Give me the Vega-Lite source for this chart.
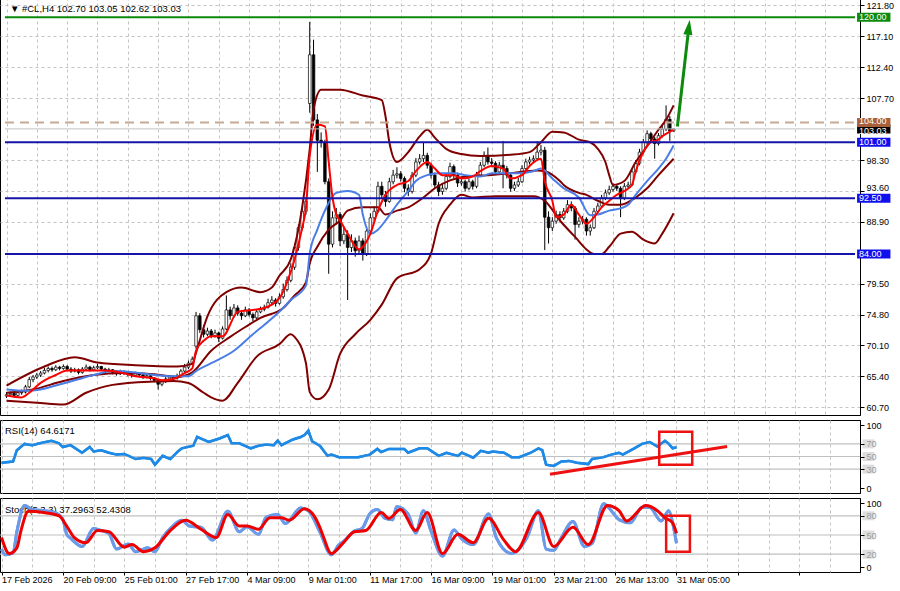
{
"$schema": "https://vega.github.io/schema/vega-lite/v6.json",
"padding": {"left": -5, "top": -4, "right": 0, "bottom": 0},
"background": "white",
"spacing": 3,
"config": {
 "font": "Liberation Sans",
 "view": {"stroke": "#000", "strokeWidth": 1},
 "axis": {"labelFont": "Liberation Sans", "labelFontSize": 9, "labelColor": "#000", "domainColor": "#000", "tickColor": "#000", "gridColor": "#c4c4c4", "labelOverlap": false},
 "text": {"font": "Liberation Sans"}
},
"datasets": {
 "bars": [
{"i":0,"o":62.4,"h":63.0,"l":62.1,"c":62.6},{"i":1,"o":62.6,"h":63.1,"l":62.3,"c":62.8},{"i":2,"o":62.8,"h":63.0,"l":62.2,"c":62.5},{"i":3,"o":62.5,"h":63.1,"l":62.3,"c":62.9},{"i":4,"o":62.9,"h":63.4,"l":62.6,"c":63.0},{"i":5,"o":63.0,"h":64.1,"l":62.8,"c":63.8},{"i":6,"o":63.8,"h":65.3,"l":63.6,"c":64.9},{"i":7,"o":64.9,"h":65.6,"l":64.5,"c":65.3},{"i":8,"o":65.3,"h":65.9,"l":65.0,"c":65.6},{"i":9,"o":65.6,"h":66.2,"l":65.3,"c":65.9},
{"i":10,"o":65.9,"h":66.7,"l":65.7,"c":66.3},{"i":11,"o":66.3,"h":66.9,"l":66.0,"c":66.6},{"i":12,"o":66.6,"h":66.9,"l":66.1,"c":66.4},{"i":13,"o":66.4,"h":67.1,"l":66.2,"c":66.8},{"i":14,"o":66.8,"h":67.0,"l":66.3,"c":66.6},{"i":15,"o":66.6,"h":67.2,"l":66.4,"c":66.9},{"i":16,"o":66.9,"h":67.1,"l":66.2,"c":66.5},{"i":17,"o":66.5,"h":66.8,"l":65.9,"c":66.2},{"i":18,"o":66.2,"h":66.7,"l":66.0,"c":66.4},{"i":19,"o":66.4,"h":66.6,"l":65.7,"c":66.0},
{"i":20,"o":66.0,"h":66.8,"l":65.8,"c":66.5},{"i":21,"o":66.5,"h":67.2,"l":66.3,"c":66.8},{"i":22,"o":66.8,"h":67.0,"l":66.1,"c":66.4},{"i":23,"o":66.4,"h":67.0,"l":66.2,"c":66.7},{"i":24,"o":66.7,"h":67.3,"l":66.5,"c":66.9},{"i":25,"o":66.9,"h":67.0,"l":66.2,"c":66.5},{"i":26,"o":66.5,"h":66.7,"l":65.9,"c":66.2},{"i":27,"o":66.2,"h":66.7,"l":66.0,"c":66.4},{"i":28,"o":66.4,"h":66.5,"l":65.7,"c":66.0},{"i":29,"o":66.0,"h":66.2,"l":65.5,"c":65.8},
{"i":30,"o":65.8,"h":66.4,"l":65.6,"c":66.1},{"i":31,"o":66.1,"h":66.3,"l":65.6,"c":65.9},{"i":32,"o":65.9,"h":66.1,"l":65.4,"c":65.7},{"i":33,"o":65.7,"h":65.9,"l":65.2,"c":65.5},{"i":34,"o":65.5,"h":66.1,"l":65.3,"c":65.8},{"i":35,"o":65.8,"h":66.0,"l":65.3,"c":65.6},{"i":36,"o":65.6,"h":65.8,"l":65.0,"c":65.3},{"i":37,"o":65.3,"h":65.8,"l":65.1,"c":65.5},{"i":38,"o":65.5,"h":65.6,"l":64.8,"c":65.1},{"i":39,"o":65.1,"h":65.3,"l":64.5,"c":64.8},
{"i":40,"o":64.8,"h":65.0,"l":63.4,"c":64.2},{"i":41,"o":64.2,"h":64.9,"l":63.9,"c":64.6},{"i":42,"o":64.6,"h":65.3,"l":64.4,"c":65.0},{"i":43,"o":65.0,"h":65.6,"l":64.8,"c":65.3},{"i":44,"o":65.3,"h":65.5,"l":64.8,"c":65.1},{"i":45,"o":65.1,"h":65.8,"l":64.9,"c":65.5},{"i":46,"o":65.5,"h":66.5,"l":65.3,"c":66.2},{"i":47,"o":66.2,"h":67.3,"l":66.0,"c":66.8},{"i":48,"o":66.8,"h":67.8,"l":66.5,"c":67.4},{"i":49,"o":67.4,"h":68.4,"l":67.1,"c":68.0},
{"i":50,"o":70.0,"h":75.2,"l":69.6,"c":74.6},{"i":51,"o":74.6,"h":75.0,"l":72.0,"c":72.5},{"i":52,"o":72.5,"h":73.2,"l":71.3,"c":71.8},{"i":53,"o":71.8,"h":72.8,"l":71.5,"c":72.3},{"i":54,"o":72.3,"h":72.6,"l":71.2,"c":71.6},{"i":55,"o":71.6,"h":72.5,"l":71.3,"c":72.0},{"i":56,"o":72.0,"h":72.2,"l":70.6,"c":71.2},{"i":57,"o":71.2,"h":73.0,"l":71.0,"c":72.6},{"i":58,"o":72.6,"h":77.7,"l":72.4,"c":75.5},{"i":59,"o":75.5,"h":76.0,"l":74.0,"c":74.6},
{"i":60,"o":74.6,"h":76.4,"l":74.3,"c":75.8},{"i":61,"o":75.8,"h":76.2,"l":74.6,"c":75.0},{"i":62,"o":75.0,"h":75.5,"l":74.0,"c":74.6},{"i":63,"o":74.6,"h":76.0,"l":74.4,"c":75.5},{"i":64,"o":75.5,"h":75.8,"l":74.5,"c":74.8},{"i":65,"o":74.8,"h":75.1,"l":73.8,"c":74.3},{"i":66,"o":74.3,"h":75.6,"l":74.1,"c":75.2},{"i":67,"o":75.2,"h":76.0,"l":75.0,"c":75.6},{"i":68,"o":75.6,"h":76.3,"l":75.3,"c":75.9},{"i":69,"o":75.9,"h":77.2,"l":75.7,"c":76.6},
{"i":70,"o":76.6,"h":77.6,"l":76.3,"c":77.0},{"i":71,"o":77.0,"h":77.3,"l":76.0,"c":76.5},{"i":72,"o":76.5,"h":78.0,"l":76.3,"c":77.5},{"i":73,"o":77.5,"h":79.5,"l":77.2,"c":78.6},{"i":74,"o":78.6,"h":80.6,"l":78.3,"c":80.0},{"i":75,"o":80.0,"h":82.6,"l":79.7,"c":82.0},{"i":76,"o":82.0,"h":85.6,"l":81.6,"c":85.0},{"i":77,"o":85.0,"h":88.5,"l":84.5,"c":88.0},{"i":78,"o":88.0,"h":91.2,"l":87.6,"c":90.5},{"i":79,"o":90.5,"h":92.6,"l":90.0,"c":92.0},
{"i":80,"o":106.9,"h":119.3,"l":105.5,"c":114.3},{"i":81,"o":114.3,"h":116.6,"l":103.5,"c":104.4},{"i":82,"o":104.4,"h":105.3,"l":96.5,"c":101.3},{"i":83,"o":101.3,"h":102.5,"l":100.2,"c":101.0},{"i":84,"o":101.0,"h":101.4,"l":94.6,"c":95.0},{"i":85,"o":95.0,"h":95.5,"l":81.0,"c":85.5},{"i":86,"o":85.5,"h":90.5,"l":85.0,"c":89.5},{"i":87,"o":89.5,"h":91.0,"l":88.5,"c":90.0},{"i":88,"o":90.0,"h":90.4,"l":85.2,"c":86.0},{"i":89,"o":86.0,"h":88.2,"l":85.5,"c":87.0},
{"i":90,"o":87.0,"h":87.6,"l":77.0,"c":85.0},{"i":91,"o":85.0,"h":87.0,"l":84.3,"c":86.0},{"i":92,"o":86.0,"h":86.5,"l":83.6,"c":84.5},{"i":93,"o":84.5,"h":86.8,"l":84.0,"c":86.0},{"i":94,"o":86.0,"h":86.4,"l":83.0,"c":84.0},{"i":95,"o":84.0,"h":88.2,"l":83.7,"c":87.5},{"i":96,"o":87.5,"h":90.2,"l":87.0,"c":89.5},{"i":97,"o":89.5,"h":91.3,"l":89.0,"c":90.5},{"i":98,"o":90.5,"h":95.0,"l":90.2,"c":94.3},{"i":99,"o":94.3,"h":95.0,"l":92.5,"c":93.0},
{"i":100,"o":93.0,"h":93.6,"l":91.2,"c":92.0},{"i":101,"o":92.0,"h":95.6,"l":91.8,"c":95.0},{"i":102,"o":95.0,"h":96.8,"l":94.6,"c":96.0},{"i":103,"o":96.0,"h":97.2,"l":95.5,"c":96.2},{"i":104,"o":96.2,"h":96.6,"l":95.0,"c":95.5},{"i":105,"o":95.5,"h":95.8,"l":93.4,"c":94.0},{"i":106,"o":94.0,"h":94.6,"l":92.8,"c":93.5},{"i":107,"o":93.5,"h":96.5,"l":93.2,"c":96.0},{"i":108,"o":96.0,"h":98.6,"l":95.7,"c":98.0},{"i":109,"o":98.0,"h":99.2,"l":97.6,"c":98.5},
{"i":110,"o":98.5,"h":101.0,"l":98.0,"c":99.0},{"i":111,"o":99.0,"h":99.4,"l":97.0,"c":97.5},{"i":112,"o":97.5,"h":97.9,"l":95.5,"c":96.0},{"i":113,"o":96.0,"h":96.4,"l":94.0,"c":94.5},{"i":114,"o":94.5,"h":95.0,"l":92.8,"c":93.5},{"i":115,"o":93.5,"h":94.8,"l":93.0,"c":94.0},{"i":116,"o":94.0,"h":96.3,"l":93.7,"c":95.8},{"i":117,"o":95.8,"h":97.9,"l":95.5,"c":97.3},{"i":118,"o":97.3,"h":97.6,"l":95.5,"c":96.0},{"i":119,"o":96.0,"h":96.4,"l":94.2,"c":94.8},
{"i":120,"o":94.8,"h":95.6,"l":94.4,"c":95.0},{"i":121,"o":95.0,"h":95.3,"l":93.5,"c":94.0},{"i":122,"o":94.0,"h":95.5,"l":93.7,"c":95.0},{"i":123,"o":95.0,"h":95.3,"l":93.8,"c":94.3},{"i":124,"o":94.3,"h":96.5,"l":94.0,"c":96.0},{"i":125,"o":96.0,"h":98.0,"l":95.7,"c":97.5},{"i":126,"o":97.5,"h":99.6,"l":97.2,"c":99.0},{"i":127,"o":99.0,"h":100.2,"l":97.6,"c":98.0},{"i":128,"o":98.0,"h":98.6,"l":97.2,"c":97.8},{"i":129,"o":97.8,"h":98.1,"l":96.0,"c":96.5},
{"i":130,"o":96.5,"h":98.0,"l":96.2,"c":97.5},{"i":131,"o":97.5,"h":101.2,"l":94.0,"c":97.0},{"i":132,"o":97.0,"h":97.4,"l":95.5,"c":96.0},{"i":133,"o":96.0,"h":96.3,"l":93.5,"c":94.0},{"i":134,"o":94.0,"h":95.0,"l":93.6,"c":94.5},{"i":135,"o":94.5,"h":95.6,"l":94.2,"c":95.0},{"i":136,"o":95.0,"h":97.5,"l":94.8,"c":97.0},{"i":137,"o":97.0,"h":98.5,"l":96.8,"c":98.0},{"i":138,"o":98.0,"h":98.8,"l":97.6,"c":98.3},{"i":139,"o":98.3,"h":99.0,"l":97.9,"c":98.5},
{"i":140,"o":98.5,"h":101.1,"l":98.2,"c":99.5},{"i":141,"o":99.5,"h":100.6,"l":99.0,"c":99.8},{"i":142,"o":99.8,"h":100.3,"l":84.6,"c":89.6},{"i":143,"o":89.6,"h":90.5,"l":85.6,"c":88.0},{"i":144,"o":88.0,"h":89.6,"l":87.5,"c":89.0},{"i":145,"o":89.0,"h":90.6,"l":88.6,"c":90.0},{"i":146,"o":90.0,"h":90.5,"l":89.0,"c":89.5},{"i":147,"o":89.5,"h":91.0,"l":89.2,"c":90.5},{"i":148,"o":90.5,"h":92.2,"l":90.2,"c":91.5},{"i":149,"o":91.5,"h":92.0,"l":90.5,"c":91.0},
{"i":150,"o":91.0,"h":91.3,"l":86.2,"c":88.5},{"i":151,"o":88.5,"h":89.6,"l":88.0,"c":89.0},{"i":152,"o":89.0,"h":89.8,"l":88.5,"c":89.3},{"i":153,"o":89.3,"h":89.6,"l":86.8,"c":87.5},{"i":154,"o":87.5,"h":88.5,"l":86.8,"c":88.0},{"i":155,"o":88.0,"h":91.0,"l":87.8,"c":90.5},{"i":156,"o":90.5,"h":91.8,"l":90.2,"c":91.3},{"i":157,"o":91.3,"h":93.0,"l":91.0,"c":92.5},{"i":158,"o":92.5,"h":93.8,"l":92.2,"c":93.3},{"i":159,"o":93.3,"h":94.4,"l":93.0,"c":93.8},
{"i":160,"o":93.8,"h":94.8,"l":93.5,"c":94.3},{"i":161,"o":94.3,"h":94.6,"l":93.6,"c":94.0},{"i":162,"o":94.0,"h":94.3,"l":89.6,"c":92.5},{"i":163,"o":92.5,"h":94.8,"l":92.2,"c":94.3},{"i":164,"o":94.3,"h":95.0,"l":94.0,"c":94.5},{"i":165,"o":94.5,"h":97.0,"l":94.3,"c":96.5},{"i":166,"o":96.5,"h":98.3,"l":96.2,"c":97.8},{"i":167,"o":97.8,"h":100.0,"l":97.5,"c":99.5},{"i":168,"o":99.5,"h":101.5,"l":99.2,"c":101.0},{"i":169,"o":101.0,"h":102.8,"l":100.6,"c":102.3},
{"i":170,"o":102.3,"h":102.6,"l":101.0,"c":101.5},{"i":171,"o":101.5,"h":101.8,"l":98.5,"c":100.8},{"i":172,"o":100.8,"h":102.4,"l":100.5,"c":102.0},{"i":173,"o":102.0,"h":103.6,"l":101.7,"c":103.0},{"i":174,"o":103.0,"h":106.6,"l":102.7,"c":104.5},{"i":175,"o":104.5,"h":105.0,"l":101.2,"c":102.7},{"i":176,"o":102.70,"h":103.05,"l":102.62,"c":103.03}
 ],
 "maRed": [{"i":0,"p":62.5},{"i":4,"p":62.2},{"i":6,"p":62.9},{"i":9,"p":64.4},{"i":13,"p":65.6},{"i":16,"p":66.3},{"i":20,"p":66.3},{"i":26,"p":66.3},{"i":30,"p":66.0},{"i":34,"p":65.4},{"i":39,"p":65.1},{"i":41,"p":64.8},{"i":44,"p":65.0},{"i":47,"p":65.9},{"i":49,"p":66.6},{"i":50,"p":69.3},{"i":52,"p":70.8},{"i":54,"p":71.5},{"i":57,"p":71.5},{"i":61,"p":75.2},{"i":65,"p":75.5},{"i":68,"p":75.8},{"i":72,"p":77.3},{"i":74,"p":79.7},{"i":76,"p":83.2},{"i":78,"p":88.0},{"i":79,"p":91.0},{"i":80,"p":99.0},{"i":82,"p":103.7},{"i":84,"p":103.4},{"i":85,"p":98.0},{"i":86,"p":92.6},{"i":87,"p":90.0},{"i":88,"p":89.1},{"i":90,"p":87.1},{"i":93,"p":84.7},{"i":94,"p":85.1},{"i":96,"p":87.1},{"i":98,"p":90.6},{"i":100,"p":93.0},{"i":103,"p":94.5},{"i":106,"p":95.1},{"i":108,"p":96.6},{"i":111,"p":98.0},{"i":113,"p":97.0},{"i":115,"p":96.0},{"i":118,"p":96.0},{"i":120,"p":95.5},{"i":123,"p":95.8},{"i":125,"p":96.6},{"i":128,"p":97.4},{"i":131,"p":97.0},{"i":133,"p":95.5},{"i":136,"p":96.0},{"i":138,"p":97.4},{"i":141,"p":98.5},{"i":142,"p":95.1},{"i":144,"p":92.1},{"i":145,"p":89.6},{"i":147,"p":90.0},{"i":149,"p":91.5},{"i":151,"p":90.0},{"i":153,"p":88.6},{"i":155,"p":89.6},{"i":157,"p":91.1},{"i":159,"p":92.1},{"i":161,"p":93.0},{"i":163,"p":93.6},{"i":165,"p":94.5},{"i":166,"p":96.6},{"i":168,"p":99.5},{"i":170,"p":101.0},{"i":172,"p":101.4},{"i":173,"p":101.9},{"i":175,"p":102.6},{"i":176,"p":102.9}],
 "maBlue": [{"i":0,"p":63.4},{"i":5,"p":63.2},{"i":9,"p":63.4},{"i":13,"p":64.0},{"i":18,"p":64.8},{"i":23,"p":65.6},{"i":28,"p":66.2},{"i":34,"p":66.0},{"i":39,"p":65.6},{"i":44,"p":65.4},{"i":48,"p":65.4},{"i":50,"p":66.2},{"i":54,"p":67.4},{"i":60,"p":69.3},{"i":65,"p":71.8},{"i":69,"p":73.7},{"i":73,"p":75.8},{"i":75,"p":77.0},{"i":79,"p":79.2},{"i":80,"p":84.1},{"i":82,"p":87.7},{"i":84,"p":90.6},{"i":87,"p":93.3},{"i":90,"p":93.6},{"i":93,"p":93.0},{"i":94,"p":90.0},{"i":96,"p":87.1},{"i":98,"p":87.7},{"i":100,"p":89.1},{"i":103,"p":91.5},{"i":106,"p":93.6},{"i":108,"p":95.1},{"i":111,"p":96.0},{"i":114,"p":96.3},{"i":118,"p":96.3},{"i":121,"p":96.0},{"i":125,"p":95.8},{"i":128,"p":96.3},{"i":132,"p":96.3},{"i":135,"p":96.3},{"i":139,"p":96.6},{"i":141,"p":97.0},{"i":144,"p":95.5},{"i":147,"p":94.0},{"i":151,"p":92.6},{"i":154,"p":89.9},{"i":156,"p":90.0},{"i":159,"p":90.6},{"i":161,"p":90.8},{"i":164,"p":91.5},{"i":166,"p":93.0},{"i":169,"p":95.1},{"i":172,"p":97.0},{"i":174,"p":98.5},{"i":176,"p":100.5}],
 "bbUp": [{"i":0,"p":64.0},{"i":10,"p":66.9},{"i":18,"p":68.3},{"i":24,"p":67.5},{"i":34,"p":67.1},{"i":45,"p":66.9},{"i":49,"p":67.3},{"i":50,"p":69.0},{"i":53,"p":74.5},{"i":58,"p":78.2},{"i":62,"p":78.9},{"i":67,"p":78.2},{"i":70,"p":78.9},{"i":72,"p":80.7},{"i":75,"p":83.2},{"i":78,"p":91.1},{"i":80,"p":100.0},{"i":81,"p":106.0},{"i":83,"p":109.0},{"i":88,"p":109.0},{"i":94,"p":108.1},{"i":99,"p":107.4},{"i":100,"p":104.9},{"i":101,"p":101.0},{"i":103,"p":98.0},{"i":106,"p":99.5},{"i":109,"p":101.9},{"i":111,"p":102.9},{"i":113,"p":101.7},{"i":116,"p":100.0},{"i":120,"p":99.2},{"i":125,"p":98.9},{"i":133,"p":99.1},{"i":138,"p":99.5},{"i":141,"p":101.0},{"i":144,"p":102.6},{"i":147,"p":102.5},{"i":151,"p":101.4},{"i":154,"p":101.0},{"i":156,"p":100.0},{"i":158,"p":98.0},{"i":159,"p":96.0},{"i":160,"p":94.5},{"i":163,"p":95.1},{"i":166,"p":98.0},{"i":169,"p":100.4},{"i":172,"p":102.9},{"i":174,"p":104.4},{"i":176,"p":106.6}],
 "bbMid": [{"i":0,"p":62.9},{"i":7,"p":63.4},{"i":15,"p":64.7},{"i":23,"p":65.6},{"i":31,"p":65.9},{"i":39,"p":65.7},{"i":45,"p":65.3},{"i":49,"p":66.0},{"i":54,"p":69.3},{"i":59,"p":71.4},{"i":63,"p":72.9},{"i":67,"p":74.3},{"i":73,"p":75.8},{"i":76,"p":77.7},{"i":79,"p":79.7},{"i":80,"p":82.6},{"i":82,"p":85.1},{"i":85,"p":87.7},{"i":88,"p":89.1},{"i":90,"p":90.6},{"i":94,"p":91.1},{"i":98,"p":91.1},{"i":100,"p":90.0},{"i":103,"p":90.6},{"i":106,"p":91.1},{"i":110,"p":92.6},{"i":113,"p":94.0},{"i":117,"p":95.2},{"i":121,"p":95.8},{"i":127,"p":96.0},{"i":133,"p":96.3},{"i":140,"p":96.7},{"i":142,"p":96.6},{"i":146,"p":95.1},{"i":147,"p":94.5},{"i":151,"p":93.3},{"i":153,"p":93.0},{"i":156,"p":92.1},{"i":159,"p":91.5},{"i":162,"p":91.5},{"i":166,"p":92.6},{"i":169,"p":94.0},{"i":172,"p":96.0},{"i":176,"p":98.5}],
 "bbLow": [{"i":0,"p":61.7},{"i":8,"p":61.4},{"i":15,"p":61.1},{"i":21,"p":62.9},{"i":28,"p":64.1},{"i":39,"p":64.6},{"i":44,"p":64.7},{"i":48,"p":64.4},{"i":52,"p":62.9},{"i":54,"p":62.2},{"i":57,"p":61.7},{"i":61,"p":64.4},{"i":66,"p":68.4},{"i":72,"p":70.3},{"i":75,"p":71.8},{"i":76,"p":71.4},{"i":79,"p":67.4},{"i":80,"p":63.0},{"i":82,"p":61.9},{"i":85,"p":63.4},{"i":88,"p":68.8},{"i":92,"p":71.8},{"i":96,"p":74.0},{"i":99,"p":76.3},{"i":103,"p":80.3},{"i":109,"p":81.7},{"i":112,"p":84.1},{"i":114,"p":88.6},{"i":117,"p":91.5},{"i":120,"p":93.0},{"i":123,"p":92.6},{"i":129,"p":92.8},{"i":139,"p":92.8},{"i":142,"p":92.1},{"i":146,"p":89.1},{"i":150,"p":86.6},{"i":153,"p":84.7},{"i":155,"p":84.0},{"i":157,"p":84.0},{"i":159,"p":85.1},{"i":162,"p":87.1},{"i":165,"p":87.4},{"i":168,"p":86.2},{"i":171,"p":85.6},{"i":173,"p":87.1},{"i":176,"p":90.2}],
 "levels": [{"p":120,"kind":"target"},{"p":103.03,"kind":"bid"},{"p":104,"kind":"entry"},{"p":101,"kind":"level"},{"p":92.5,"kind":"level"},{"p":84,"kind":"level"}],
 "rsi": [{"i":0,"v":40},{"i":3,"v":42},{"i":4,"v":60},{"i":6,"v":70},{"i":8,"v":68},{"i":10,"v":71},{"i":13,"v":75},{"i":15,"v":71},{"i":16,"v":65},{"i":18,"v":68},{"i":21,"v":56},{"i":23,"v":65},{"i":24,"v":58},{"i":26,"v":60},{"i":28,"v":56},{"i":30,"v":53},{"i":32,"v":54},{"i":35,"v":46},{"i":37,"v":48},{"i":39,"v":46},{"i":40,"v":37},{"i":42,"v":51},{"i":44,"v":46},{"i":46,"v":58},{"i":47,"v":63},{"i":50,"v":67},{"i":51,"v":81},{"i":54,"v":73},{"i":55,"v":75},{"i":57,"v":79},{"i":59,"v":84},{"i":60,"v":71},{"i":62,"v":71},{"i":65,"v":63},{"i":67,"v":67},{"i":69,"v":69},{"i":71,"v":68},{"i":72,"v":75},{"i":73,"v":68},{"i":76,"v":77},{"i":78,"v":81},{"i":79,"v":84},{"i":80,"v":91},{"i":81,"v":74},{"i":83,"v":67},{"i":85,"v":51},{"i":86,"v":53},{"i":88,"v":49},{"i":91,"v":49},{"i":93,"v":49},{"i":96,"v":53},{"i":98,"v":62},{"i":99,"v":57},{"i":101,"v":62},{"i":105,"v":62},{"i":106,"v":56},{"i":109,"v":63},{"i":111,"v":63},{"i":114,"v":51},{"i":116,"v":56},{"i":119,"v":51},{"i":120,"v":56},{"i":123,"v":48},{"i":125,"v":59},{"i":127,"v":56},{"i":128,"v":58},{"i":131,"v":56},{"i":133,"v":49},{"i":135,"v":49},{"i":138,"v":56},{"i":140,"v":63},{"i":141,"v":60},{"i":142,"v":37},{"i":144,"v":35},{"i":146,"v":42},{"i":148,"v":43},{"i":150,"v":40},{"i":153,"v":38},{"i":154,"v":46},{"i":157,"v":49},{"i":159,"v":53},{"i":161,"v":56},{"i":162,"v":53},{"i":165,"v":63},{"i":167,"v":70},{"i":169,"v":73},{"i":171,"v":66},{"i":173,"v":75},{"i":174,"v":70},{"i":175,"v":63},{"i":176,"v":64.6171}],
 "stochK": [{"i":0,"v":28},{"i":1,"v":19},{"i":3,"v":22},{"i":4,"v":55},{"i":6,"v":96},{"i":8,"v":90},{"i":11,"v":88},{"i":14,"v":85},{"i":16,"v":74},{"i":17,"v":51},{"i":18,"v":45},{"i":21,"v":32},{"i":24,"v":60},{"i":26,"v":57},{"i":28,"v":52},{"i":30,"v":28},{"i":33,"v":36},{"i":35,"v":24},{"i":37,"v":28},{"i":38,"v":30},{"i":40,"v":24},{"i":42,"v":46},{"i":44,"v":60},{"i":47,"v":73},{"i":49,"v":64},{"i":52,"v":62},{"i":55,"v":42},{"i":59,"v":87},{"i":62,"v":55},{"i":64,"v":63},{"i":67,"v":51},{"i":69,"v":78},{"i":72,"v":82},{"i":74,"v":68},{"i":78,"v":92},{"i":80,"v":88},{"i":83,"v":55},{"i":86,"v":19},{"i":88,"v":35},{"i":89,"v":39},{"i":92,"v":56},{"i":94,"v":60},{"i":96,"v":83},{"i":98,"v":90},{"i":100,"v":76},{"i":102,"v":74},{"i":103,"v":94},{"i":106,"v":83},{"i":108,"v":53},{"i":110,"v":88},{"i":112,"v":56},{"i":115,"v":17},{"i":118,"v":58},{"i":120,"v":44},{"i":123,"v":35},{"i":127,"v":83},{"i":129,"v":46},{"i":133,"v":21},{"i":137,"v":46},{"i":140,"v":88},{"i":142,"v":28},{"i":144,"v":26},{"i":146,"v":46},{"i":149,"v":71},{"i":152,"v":32},{"i":154,"v":37},{"i":157,"v":99},{"i":159,"v":88},{"i":161,"v":74},{"i":164,"v":69},{"i":167,"v":93},{"i":169,"v":93},{"i":172,"v":72},{"i":174,"v":88},{"i":175,"v":69},{"i":176,"v":37.2963}],
 "stochD": [{"i":0,"v":46},{"i":2,"v":21},{"i":4,"v":30},{"i":5,"v":55},{"i":7,"v":87},{"i":11,"v":85},{"i":15,"v":80},{"i":17,"v":64},{"i":19,"v":46},{"i":22,"v":38},{"i":25,"v":57},{"i":28,"v":55},{"i":32,"v":31},{"i":34,"v":35},{"i":37,"v":24},{"i":40,"v":30},{"i":44,"v":57},{"i":48,"v":73},{"i":52,"v":59},{"i":56,"v":46},{"i":59,"v":82},{"i":62,"v":64},{"i":64,"v":64},{"i":67,"v":59},{"i":70,"v":77},{"i":73,"v":77},{"i":75,"v":73},{"i":79,"v":91},{"i":81,"v":84},{"i":83,"v":62},{"i":84,"v":46},{"i":86,"v":21},{"i":89,"v":37},{"i":92,"v":55},{"i":95,"v":57},{"i":99,"v":85},{"i":101,"v":76},{"i":104,"v":90},{"i":108,"v":57},{"i":111,"v":85},{"i":115,"v":21},{"i":119,"v":51},{"i":123,"v":38},{"i":127,"v":76},{"i":131,"v":42},{"i":134,"v":24},{"i":140,"v":85},{"i":144,"v":32},{"i":149,"v":62},{"i":153,"v":35},{"i":158,"v":96},{"i":161,"v":88},{"i":163,"v":72},{"i":168,"v":96},{"i":171,"v":88},{"i":173,"v":77},{"i":175,"v":69},{"i":176,"v":52.4308}]
},
"vconcat": [
 {
  "width": 860, "height": 418,
  "layer": [
   {"data": {"name": "bars"}, "mark": {"type": "rule", "color": "#000", "strokeWidth": 1},
    "encoding": {
     "x": {"field": "i", "type": "quantitative", "title": null, "scale": {"domain": [-0.4, 223.85], "nice": false, "zero": false},
      "axis": {"orient": "bottom", "values": [0,8,16,24,32,40,48,56,64,72,80,88,96,104,112,120,128,136,144,152,160,168,176,184,192,200,208,216], "tickCount": 100, "grid": true, "gridDash": [3,3], "labels": false, "ticks": false, "domain": false, "title": null}},
     "y": {"field": "l", "type": "quantitative", "title": null, "scale": {"domain": [60.28, 122.33], "nice": false, "zero": false},
      "axis": {"orient": "right", "values": [60.7,65.4,70.1,74.8,79.5,88.9,93.6,98.3,107.7,112.4,117.1,121.8], "tickCount": 100, "format": ".2f", "grid": true, "gridDash": [3,3], "tickSize": 4, "labelPadding": 2, "labelOverlap": false, "title": null,
       "labelOffset": {"condition": {"test": "datum.value == 93.6", "value": -3}, "value": 0}}},
     "y2": {"field": "h"}}},
   {"data": {"name": "bars"}, "mark": {"type": "bar", "size": 2.6, "stroke": "#000", "strokeWidth": 0.7},
    "encoding": {"x": {"field": "i", "type": "quantitative", "title": null}, "y": {"field": "o", "type": "quantitative", "title": null}, "y2": {"field": "c"},
     "color": {"condition": {"test": "datum.c >= datum.o", "value": "#ffffff"}, "value": "#000000"}}},
   {"data": {"name": "bbUp"}, "mark": {"type": "line", "color": "#800000", "strokeWidth": 2, "interpolate": "monotone"},
    "encoding": {"x": {"field": "i", "type": "quantitative", "title": null}, "y": {"field": "p", "type": "quantitative", "title": null}}},
   {"data": {"name": "bbMid"}, "mark": {"type": "line", "color": "#800000", "strokeWidth": 2, "interpolate": "monotone"},
    "encoding": {"x": {"field": "i", "type": "quantitative", "title": null}, "y": {"field": "p", "type": "quantitative", "title": null}}},
   {"data": {"name": "bbLow"}, "mark": {"type": "line", "color": "#800000", "strokeWidth": 2, "interpolate": "monotone"},
    "encoding": {"x": {"field": "i", "type": "quantitative", "title": null}, "y": {"field": "p", "type": "quantitative", "title": null}}},
   {"data": {"name": "maBlue"}, "mark": {"type": "line", "color": "#4a7ee6", "strokeWidth": 2, "interpolate": "monotone"},
    "encoding": {"x": {"field": "i", "type": "quantitative", "title": null}, "y": {"field": "p", "type": "quantitative", "title": null}}},
   {"data": {"name": "maRed"}, "mark": {"type": "line", "color": "#ff0000", "strokeWidth": 2, "interpolate": "monotone"},
    "encoding": {"x": {"field": "i", "type": "quantitative", "title": null}, "y": {"field": "p", "type": "quantitative", "title": null}}},
   {"data": {"name": "levels"}, "transform": [{"filter": "datum.kind == 'bid'"}], "mark": {"type": "rule", "color": "#c0c0c0", "strokeWidth": 1},
    "encoding": {"x": {"datum": -0.4}, "x2": {"datum": 223.85}, "y": {"field": "p", "type": "quantitative", "title": null}}},
   {"data": {"name": "levels"}, "transform": [{"filter": "datum.kind == 'level'"}], "mark": {"type": "rule", "color": "#1414a8", "strokeWidth": 2},
    "encoding": {"x": {"datum": -0.4}, "x2": {"datum": 223.85}, "y": {"field": "p", "type": "quantitative", "title": null}}},
   {"data": {"name": "levels"}, "transform": [{"filter": "datum.kind == 'target'"}], "mark": {"type": "rule", "color": "#0b8a0b", "strokeWidth": 2},
    "encoding": {"x": {"datum": -0.4}, "x2": {"datum": 223.85}, "y": {"field": "p", "type": "quantitative", "title": null}}},
   {"data": {"name": "levels"}, "transform": [{"filter": "datum.kind == 'entry'"}], "mark": {"type": "rule", "color": "#c8a994", "strokeWidth": 2, "strokeDash": [9,6]},
    "encoding": {"x": {"datum": -0.4}, "x2": {"datum": 223.85}, "y": {"field": "p", "type": "quantitative", "title": null}}},
   {"data": {"values": [{"i1": 177.0, "p1": 103.4, "i2": 179.8, "p2": 117.4}]}, "mark": {"type": "rule", "color": "#0b8a0b", "strokeWidth": 3},
    "encoding": {"x": {"field": "i1", "type": "quantitative", "title": null}, "x2": {"field": "i2"}, "y": {"field": "p1", "type": "quantitative", "title": null}, "y2": {"field": "p2"}}},
   {"data": {"values": [{"i": 180.0, "p": 118.5}]}, "mark": {"type": "point", "shape": "M0,-1L0.6,1L-0.6,1Z", "size": 230, "angle": 7, "filled": true, "color": "#0b8a0b", "opacity": 1},
    "encoding": {"x": {"field": "i", "type": "quantitative", "title": null}, "y": {"field": "p", "type": "quantitative", "title": null}}},
   {"data": {"name": "levels"}, "mark": {"type": "bar", "size": 9},
    "encoding": {"x": {"datum": 224.4}, "x2": {"datum": 233.2}, "y": {"field": "p", "type": "quantitative", "title": null},
     "color": {"field": "kind", "type": "nominal", "legend": null, "scale": {"domain": ["target","entry","bid","level"], "range": ["#0b8a0b","#a8603a","#000000","#1010ee"]}}}},
   {"data": {"name": "levels"}, "transform": [{"filter": "datum.kind == 'target' || datum.kind == 'level'"}], "mark": {"type": "text", "align": "left", "baseline": "middle", "fontSize": 9, "color": "#ffffff", "dx": 2},
    "encoding": {"x": {"datum": 224.4}, "y": {"field": "p", "type": "quantitative", "title": null}, "text": {"field": "p", "type": "quantitative", "format": ".2f"}}},
   {"data": {"name": "levels"}, "transform": [{"filter": "datum.kind == 'bid'"}], "mark": {"type": "text", "align": "left", "baseline": "middle", "fontSize": 9, "color": "#ffffff", "dx": 2, "dy": 2},
    "encoding": {"x": {"datum": 224.4}, "y": {"field": "p", "type": "quantitative", "title": null}, "text": {"field": "p", "type": "quantitative", "format": ".2f"}}},
   {"data": {"name": "levels"}, "transform": [{"filter": "datum.kind == 'entry'"}], "mark": {"type": "text", "align": "left", "baseline": "middle", "fontSize": 9, "color": "#ffffff", "dx": 2, "dy": -1.5},
    "encoding": {"x": {"datum": 224.4}, "y": {"field": "p", "type": "quantitative", "title": null}, "text": {"field": "p", "type": "quantitative", "format": ".2f"}}},
   {"data": {"values": [{"label": "▼ #CL,H4  102.70 103.05 102.62 103.03"}]}, "mark": {"type": "text", "align": "left", "baseline": "middle", "fontSize": 9.5, "color": "#000"},
    "encoding": {"x": {"datum": 0.9}, "y": {"datum": 121.3}, "text": {"field": "label"}}}
  ]
 },
 {
  "width": 860, "height": 73,
  "layer": [
   {"data": {"name": "rsi"}, "mark": {"type": "line", "color": "#1e8ae6", "strokeWidth": 2.5},
    "encoding": {
     "x": {"field": "i", "type": "quantitative", "title": null, "scale": {"domain": [-0.4, 223.85], "nice": false, "zero": false},
      "axis": {"orient": "bottom", "values": [0,8,16,24,32,40,48,56,64,72,80,88,96,104,112,120,128,136,144,152,160,168,176,184,192,200,208,216], "tickCount": 100, "grid": true, "gridDash": [3,3], "labels": false, "ticks": false, "domain": false, "title": null}},
     "y": {"field": "v", "type": "quantitative", "title": null, "scale": {"domain": [0, 100], "nice": false},
      "axis": {"orient": "right", "values": [0, 30, 50, 70, 100], "tickCount": 100, "grid": false, "labelFlush": true, "labelOverlap": false, "tickSize": 4, "labelPadding": 2, "zindex": 1, "title": null,
       "labelColor": {"condition": {"test": "datum.value == 0 || datum.value == 100", "value": "#000000"}, "value": "#9a9a9a"}}}}},
   {"data": {"values": [{"v": 70}, {"v": 50}, {"v": 30}]}, "mark": {"type": "rule", "color": "#c0c0c0", "strokeWidth": 1.2},
    "encoding": {"x": {"datum": -0.4}, "x2": {"datum": 223.85}, "y": {"field": "v", "type": "quantitative", "title": null}}},
   {"data": {"values": [{"v": 70}, {"v": 50}, {"v": 30}]}, "mark": {"type": "bar", "size": 9, "color": "#dedede"},
    "encoding": {"x": {"datum": 224.5}, "x2": {"datum": 227.6}, "y": {"field": "v", "type": "quantitative", "title": null}}},
   {"data": {"values": [{"label": "RSI(14) 64.6171"}]}, "mark": {"type": "text", "align": "left", "baseline": "middle", "fontSize": 9.5, "color": "#000"},
    "encoding": {"x": {"datum": 0.9}, "y": {"datum": 90}, "text": {"field": "label"}}},
   {"data": {"name": "rsi"}, "mark": {"type": "line", "color": "#1e8ae6", "strokeWidth": 2.5},
    "encoding": {"x": {"field": "i", "type": "quantitative", "title": null}, "y": {"field": "v", "type": "quantitative", "title": null}}},
   {"data": {"values": [{"i1": 143, "v1": 21.7, "i2": 189.2, "v2": 65.9}]}, "mark": {"type": "rule", "color": "#ee1111", "strokeWidth": 3},
    "encoding": {"x": {"field": "i1", "type": "quantitative", "title": null}, "x2": {"field": "i2"}, "y": {"field": "v1", "type": "quantitative", "title": null}, "y2": {"field": "v2"}}},
   {"data": {"values": [{"i1": 171.5, "i2": 180.1, "v1": 36.9, "v2": 89.3}]}, "mark": {"type": "rect", "fillOpacity": 0, "stroke": "#ee1111", "strokeWidth": 2.5},
    "encoding": {"x": {"field": "i1", "type": "quantitative", "title": null}, "x2": {"field": "i2"}, "y": {"field": "v1", "type": "quantitative", "title": null}, "y2": {"field": "v2"}}}
  ]
 },
 {
  "width": 860, "height": 74,
  "layer": [
   {"data": {"name": "stochK"}, "mark": {"type": "line", "color": "#6a9ae8", "strokeWidth": 3, "interpolate": "monotone"},
    "encoding": {
     "x": {"field": "i", "type": "quantitative", "title": null, "scale": {"domain": [-0.4, 223.85], "nice": false, "zero": false},
      "axis": {"orient": "bottom", "values": [0,8,16,24,32,40,48,56,64,72,80,88,96,104,112,120,128,136,144,152,160,168,176,184,192,200,208,216], "tickCount": 100, "grid": true, "gridDash": [3,3], "labels": true, "ticks": true, "tickSize": 3, "domain": false, "title": null,
       "tickOpacity": {"condition": {"test": "datum.value % 16 == 0", "value": 1}, "value": 0},
       "labelAlign": "left", "labelPadding": 0, "labelOverlap": false, "labelFlush": false, "labelBound": false,
       "labelExpr": "datum.value == 0 ? '17 Feb 2026' : datum.value == 16 ? '20 Feb 09:00' : datum.value == 32 ? '25 Feb 01:00' : datum.value == 48 ? '27 Feb 17:00' : datum.value == 64 ? '4 Mar 09:00' : datum.value == 80 ? '9 Mar 01:00' : datum.value == 96 ? '11 Mar 17:00' : datum.value == 112 ? '16 Mar 09:00' : datum.value == 128 ? '19 Mar 01:00' : datum.value == 144 ? '23 Mar 21:00' : datum.value == 160 ? '26 Mar 13:00' : datum.value == 176 ? '31 Mar 05:00' : ''"}},
     "y": {"field": "v", "type": "quantitative", "title": null, "scale": {"domain": [0, 100], "nice": false},
      "axis": {"orient": "right", "values": [0, 20, 50, 80, 100], "tickCount": 100, "grid": false, "labelFlush": true, "labelOverlap": false, "tickSize": 4, "labelPadding": 2, "zindex": 1, "title": null,
       "labelColor": {"condition": {"test": "datum.value == 0 || datum.value == 100", "value": "#000000"}, "value": "#9a9a9a"}}}}},
   {"data": {"values": [{"v": 80}, {"v": 50}, {"v": 20}]}, "mark": {"type": "rule", "color": "#c0c0c0", "strokeWidth": 1.2},
    "encoding": {"x": {"datum": -0.4}, "x2": {"datum": 223.85}, "y": {"field": "v", "type": "quantitative", "title": null}}},
   {"data": {"values": [{"v": 80}, {"v": 50}, {"v": 20}]}, "mark": {"type": "bar", "size": 9, "color": "#dedede"},
    "encoding": {"x": {"datum": 224.5}, "x2": {"datum": 227.6}, "y": {"field": "v", "type": "quantitative", "title": null}}},
   {"data": {"values": [{"label": "Stoch(5,3,3) 37.2963 52.4308"}]}, "mark": {"type": "text", "align": "left", "baseline": "middle", "fontSize": 9.5, "color": "#000"},
    "encoding": {"x": {"datum": 0.9}, "y": {"datum": 89}, "text": {"field": "label"}}},
   {"data": {"name": "stochK"}, "mark": {"type": "line", "color": "#6a9ae8", "strokeWidth": 3, "interpolate": "monotone"},
    "encoding": {"x": {"field": "i", "type": "quantitative", "title": null}, "y": {"field": "v", "type": "quantitative", "title": null}}},
   {"data": {"name": "stochD"}, "mark": {"type": "line", "color": "#ee0000", "strokeWidth": 3, "interpolate": "monotone"},
    "encoding": {"x": {"field": "i", "type": "quantitative", "title": null}, "y": {"field": "v", "type": "quantitative", "title": null}}},
   {"data": {"values": [{"i1": 173.3, "i2": 179.5, "v1": 24, "v2": 80}]}, "mark": {"type": "rect", "fillOpacity": 0, "stroke": "#ee1111", "strokeWidth": 2.5},
    "encoding": {"x": {"field": "i1", "type": "quantitative", "title": null}, "x2": {"field": "i2"}, "y": {"field": "v1", "type": "quantitative", "title": null}, "y2": {"field": "v2"}}}
  ]
 }
]
}
